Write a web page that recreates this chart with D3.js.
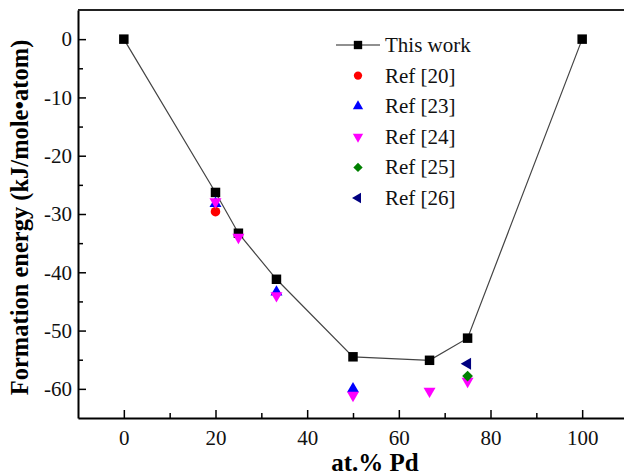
<!DOCTYPE html>
<html>
<head>
<meta charset="utf-8">
<script src="https://cdn.jsdelivr.net/npm/d3@7"></script>
<style>
  body { margin: 0; background: #fff; }
  svg { display: block; }
  text { font-family: "Liberation Serif", "Times New Roman", serif; }
</style>
</head>
<body>
<svg id="chart" width="624" height="476"></svg>
<script>
// composition (at.% Pd) and formation energies (kJ/mole-atom)
const thisWorkX = [0, 20, 25, 33.3, 50, 66.7, 75, 100];
const thisWorkY = [0, -26.3, -33.3, -41.2, -54.5, -55.1, -51.3, 0];
const ref20X = [20];
const ref20Y = [-29.6];
const ref23X = [20, 33.3, 50];
const ref23Y = [-28.2, -43.4, -60.0];
const ref24X = [20, 25, 33.3, 50, 66.7, 75];
const ref24Y = [-27.9, -34.0, -44.0, -61.1, -60.4, -58.7];
const ref25X = [75];
const ref25Y = [-57.8];
const ref26X = [75];
const ref26Y = [-55.7];

const xTicks = [0, 20, 40, 60, 80, 100];
const yTicks = [0, -10, -20, -30, -40, -50, -60];

const serif = "Liberation Serif, Times New Roman, serif";

const svg = d3.select("#chart");
const margin = { left: 78, top: 10, right: -4, bottom: 58 };
const width = 624 - margin.left - margin.right;
const height = 476 - margin.top - margin.bottom;

const x = d3.scaleLinear().domain([-10, 110]).range([margin.left, margin.left + width]);
const y = d3.scaleLinear().domain([-65, 5]).range([margin.top + height, margin.top]);

// minor ticks
const xMinor = d3.range(-10, 111, 10).filter((v) => !xTicks.includes(v) && v > -10 && v < 110);
const yMinor = d3.range(-65, 6, 5).filter((v) => !yTicks.includes(v) && v > -65 && v < 5);

const fmt = (d) => String(d);

const xAxis = svg.append("g").attr("transform", `translate(0, ${y(-65)})`);
xAxis.call(d3.axisBottom(x).tickValues(xTicks).tickFormat(fmt).tickSize(-8).tickPadding(12).tickSizeOuter(0));
svg.append("g").attr("transform", `translate(0, ${y(-65)})`)
  .call(d3.axisBottom(x).tickValues(xMinor).tickSize(-5).tickFormat("").tickSizeOuter(0))
  .call((g) => g.select(".domain").remove());

const yAxis = svg.append("g").attr("transform", `translate(${x(-10)}, 0)`);
yAxis.call(d3.axisLeft(y).tickValues(yTicks).tickFormat(fmt).tickSize(-8).tickPadding(6).tickSizeOuter(0));
svg.append("g").attr("transform", `translate(${x(-10)}, 0)`)
  .call(d3.axisLeft(y).tickValues(yMinor).tickSize(-5).tickFormat("").tickSizeOuter(0))
  .call((g) => g.select(".domain").remove());

svg.selectAll(".tick line").attr("stroke-width", 1.5);
svg.selectAll(".domain").attr("stroke-width", 2);
[xAxis, yAxis].forEach((g) => g.attr("font-family", serif).attr("font-size", 21));
svg.selectAll(".tick text")
  .attr("font-family", serif)
  .attr("font-size", 21)
  .attr("fill", "#111");

// top frame
svg.append("line")
  .attr("x1", x(-10)).attr("x2", x(110))
  .attr("y1", y(5)).attr("y2", y(5))
  .attr("stroke", "#222").attr("stroke-width", 2);

// axis labels
svg.append("text")
  .text("at.% Pd")
  .attr("x", 375).attr("y", 471)
  .attr("text-anchor", "middle")
  .attr("font-weight", "bold")
  .attr("font-size", 25);

svg.append("text")
  .text("Formation energy (kJ/mole\u2022atom)")
  .attr("transform", `translate(28, 217.5) rotate(-90)`)
  .attr("text-anchor", "middle")
  .attr("font-weight", "bold")
  .attr("font-size", 24.5);

// this work line + squares
const thisWork = thisWorkX.map((v, i) => [v, thisWorkY[i]]);
svg.append("path")
  .attr("fill", "none")
  .attr("stroke", "#444")
  .attr("stroke-width", 1.2)
  .attr("d", d3.line().x((d) => x(d[0])).y((d) => y(d[1]))(thisWork));

const series = [
  { xs: ref20X, ys: ref20Y, symbol: d3.symbolCircle, size: 72, color: "#ff0000", rot: 0 },
  { xs: ref23X, ys: ref23Y, symbol: d3.symbolTriangle, size: 62, color: "#0000ff", rot: 0 },
  { xs: ref24X, ys: ref24Y, symbol: d3.symbolTriangle, size: 62, color: "#ff00ff", rot: 180 },
  { xs: ref25X, ys: ref25Y, symbol: d3.symbolSquare, size: 58, color: "#008000", rot: 45 },
  { xs: ref26X, ys: ref26Y, symbol: d3.symbolTriangle, size: 62, color: "#000080", rot: -90 },
];

svg.append("g").selectAll("path")
  .data(thisWork)
  .join("path")
  .attr("d", d3.symbol(d3.symbolSquare, 90))
  .attr("fill", "#000")
  .attr("transform", (d) => `translate(${x(d[0])}, ${y(d[1])})`);

series.forEach((s) => {
  svg.append("g").selectAll("path")
    .data(s.xs.map((v, i) => [v, s.ys[i]]))
    .join("path")
    .attr("d", d3.symbol(s.symbol, s.size))
    .attr("fill", s.color)
    .attr("transform", (d) => `translate(${x(d[0])}, ${y(d[1])}) rotate(${s.rot})`);
});

// legend
const legendNames = ["This work", "Ref [20]", "Ref [23]", "Ref [24]", "Ref [25]", "Ref [26]"];
const legend = svg.append("g").attr("transform", "translate(358, 45)");
legendNames.forEach((name, i) => {
  const row = legend.append("g").attr("transform", `translate(0, ${i * 30.6})`);
  if (i === 0) {
    row.append("line").attr("x1", -22).attr("x2", 22).attr("stroke", "#222").attr("stroke-width", 1.2);
    row.append("path").attr("d", d3.symbol(d3.symbolSquare, 70)).attr("fill", "#000");
  } else {
    const s = series[i - 1];
    row.append("path")
      .attr("d", d3.symbol(s.symbol, s.size * 0.75))
      .attr("fill", s.color)
      .attr("transform", `rotate(${s.rot})`);
  }
  row.append("text")
    .text(name)
    .attr("x", 27)
    .attr("y", 7)
    .attr("font-size", 21)
    .attr("fill", "#111");
});
</script>
</body>
</html>
